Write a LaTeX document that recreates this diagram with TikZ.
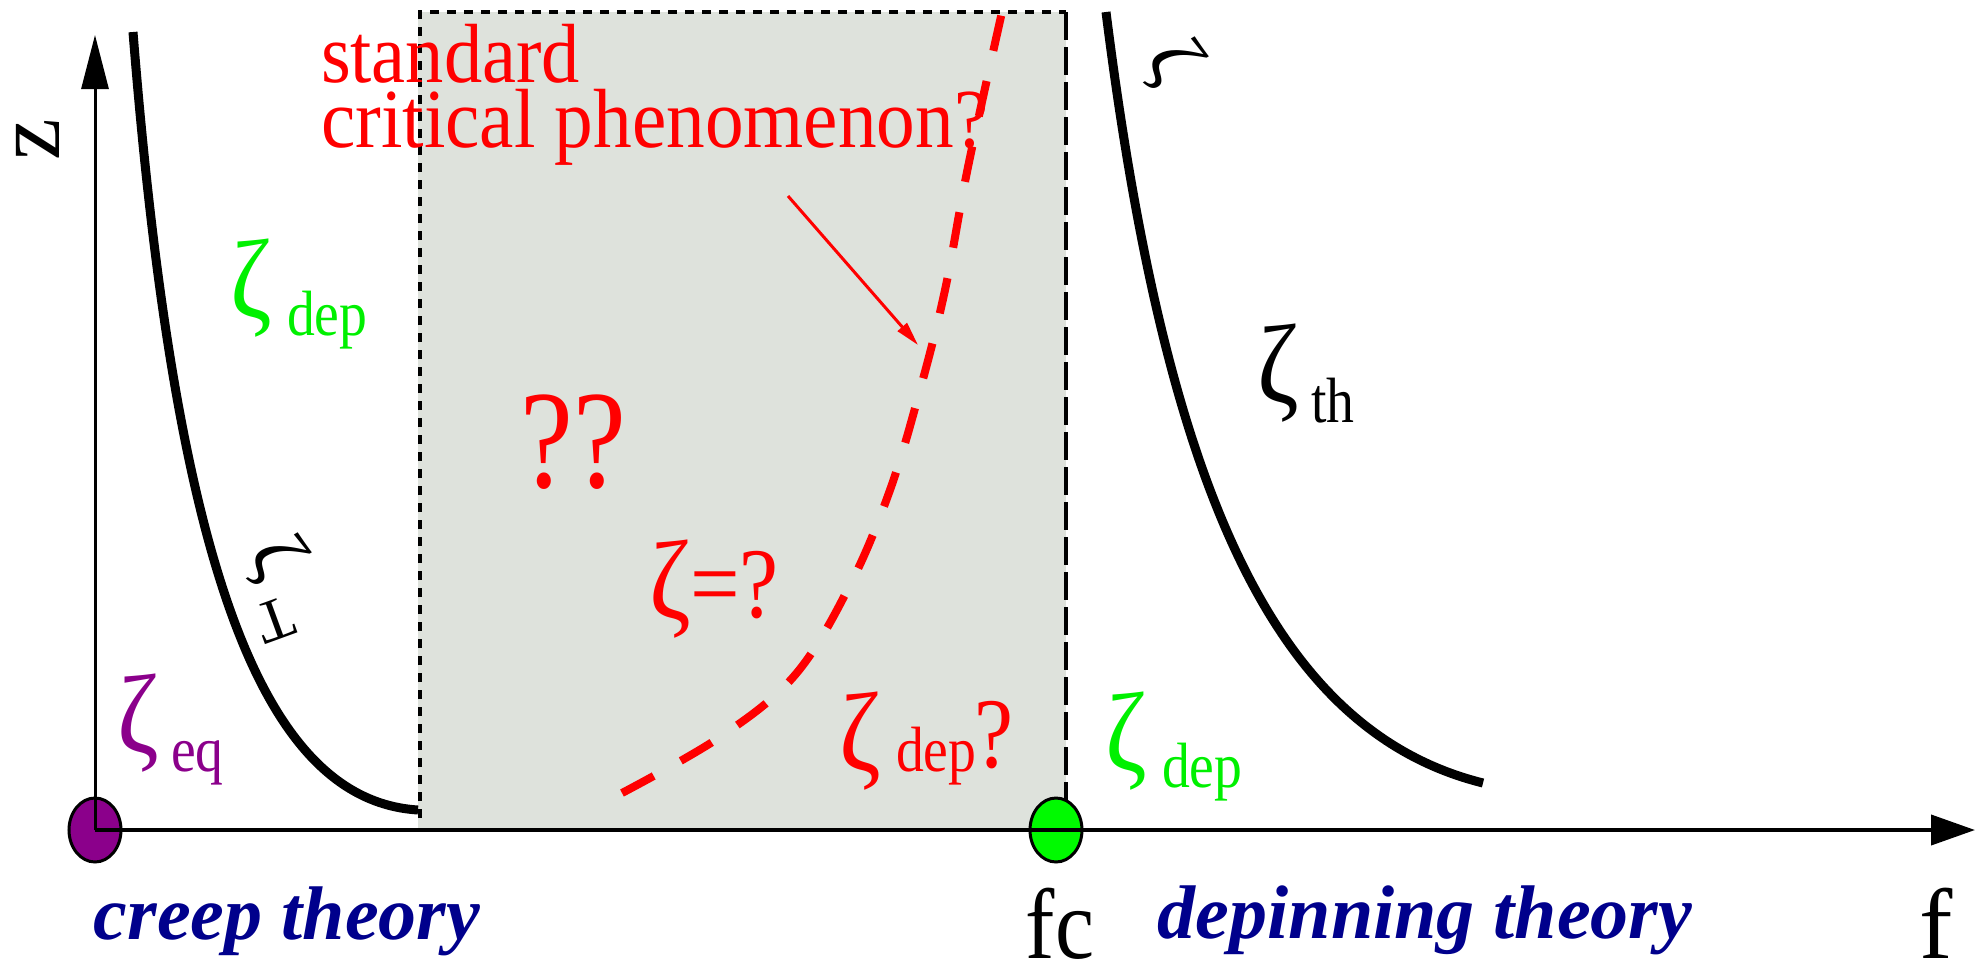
\documentclass[tikz,border=0pt]{standalone}
\usepackage{fontspec}
\setmainfont{Liberation Serif}
\usepackage{graphicx}
\usetikzlibrary{arrows.meta,shapes.geometric}
\definecolor{boxgray}{RGB}{222,226,220}
\definecolor{navyblue}{RGB}{0,0,140}
\definecolor{brightgreen}{RGB}{0,240,0}
\definecolor{dotgreen}{RGB}{0,250,0}
\definecolor{purp}{RGB}{139,0,139}
\definecolor{pured}{RGB}{255,0,0}
\newcommand{\fsz}[1]{\fontsize{#1}{#1}\selectfont}
\newcommand{\zg}{\scalebox{0.9}[1]{ζ}}
\newcommand{\sx}[1]{\scalebox{0.87}[1]{#1}}
\begin{document}
\begin{tikzpicture}[x=0.5pt,y=-0.5pt,
  lbl/.style={inner sep=0pt, outer sep=0pt},
  zeta/.style={lbl, anchor=south, font=\fsz{56pt}},
  sub/.style={lbl, anchor=base west, font=\fsz{32pt}},
  curve/.style={line width=4.5pt},
  dotstyle/.style={ellipse, draw=black, line width=1.5pt, minimum width=26pt, minimum height=32pt, inner sep=0pt},
  bottomlbl/.style={lbl, anchor=base, text=navyblue, font=\fsz{38pt}\bfseries\itshape}
]
\useasboundingbox (0,0) rectangle (1983,966);
% grey region
\fill[boxgray] (418,12) rectangle (1066,830);
\draw[line width=2pt, dash pattern=on 4.5pt off 4pt] (420,818) -- (420,12) -- (1066,12);
\draw[line width=2pt, dash pattern=on 14pt off 3.5pt] (1066,12) -- (1066,830);
% dots
\node[dotstyle, fill=purp] (origin) at (95,830) {};
\node[dotstyle, fill=dotgreen] (fcdot) at (1056,830) {};
% axes
\coordinate (xend) at (1975,830);
\coordinate (yend) at (95,35);
\draw[line width=2pt, -{Triangle[length=22pt,width=15pt]}] (origin.center) -- (xend);
\draw[line width=1.5pt, -{Triangle[length=27pt,width=13.5pt]}] (origin.center) -- (yend);
% black curves
\draw[curve] (133,32) .. controls (175,560) and (260,800) .. (418,810);
\draw[curve] (1106,12) .. controls (1165,480) and (1270,730) .. (1483,783);
% red dashed curve
\draw[pured, line width=4pt, dash pattern=on 18pt off 15.5pt] plot[smooth, tension=0.6] coordinates {(622,793) (720,737) (795,675) (850,585) (890,490) (920,390) (945,290) (968,167) (1002,12)};
% red arrow
\coordinate (arrS) at (788,196);
\coordinate (arrE) at (918,345);
\draw[pured, line width=1.5pt, -{Triangle[length=12pt,width=6pt]}] (arrS) -- (arrE);
% red texts
\node[lbl, anchor=base west, text=pured, font=\fsz{42pt}] (std) at (321,82) {\scalebox{0.91}[1]{standard}};
\node[lbl, anchor=base west, text=pured, font=\fsz{42pt}] (crit) at (321,147) {\scalebox{0.92}[1]{critical phenomenon?}};
\node[lbl, anchor=base, text=pured, font=\fsz{70pt}] (qq) at (573,487) {\scalebox{0.85}[1]{??}};
\node[zeta, text=pured] (zq) at (670,638) {\zg};
\node[lbl, anchor=base west, text=pured, font=\fsz{50pt}] (eqq) at (690,617) {\scalebox{0.88}[1]{=?}};
\node[zeta, text=pured] (zd2) at (860,790) {\zg};
\node[sub, text=pured] (dep2) at (896,771) {\sx{dep}};
\node[lbl, anchor=base, text=pured, font=\fsz{50pt}] (q2) at (994,767) {\scalebox{0.88}[1]{?}};
% exponent labels
\node[zeta, text=brightgreen] (zd1) at (251,337) {\zg};
\node[sub, text=brightgreen] (dep1) at (287,335) {\sx{dep}};
\node[zeta, text=purp] (zeq) at (138,772) {\zg};
\node[sub, text=purp] (eq) at (171,771) {\sx{eq}};
\node[zeta, text=brightgreen] (zd3) at (1126,790) {\zg};
\node[sub, text=brightgreen] (dep3) at (1162,787) {\sx{dep}};
\node[zeta] (zth) at (1278,422) {\zg};
\node[sub] (th) at (1311,422) {\sx{th}};
% rotated labels along curves
\node[lbl, font=\fsz{40pt}, rotate=-60] (zT1) at (275,558) {ζ};
\node[lbl, font=\fsz{30pt}, rotate=-160] (T1) at (275,620) {T};
\node[lbl, font=\fsz{40pt}, rotate=-60] (zT2) at (1172,62) {ζ};
% axis labels
\node[bottomlbl] (creep) at (287,939) {creep theory};
\node[bottomlbl] (depin) at (1425,938) {depinning theory};
\node[lbl, anchor=base, font=\fsz{50pt}] (fc) at (1060,958) {\scalebox{0.88}[1]{fc}};
\node[lbl, anchor=base, font=\fsz{50pt}] (flab) at (1936,958) {f};
\node[lbl, font=\fsz{47pt}, rotate=90] (zlab) at (38,140) {z};
\end{tikzpicture}
\end{document}
